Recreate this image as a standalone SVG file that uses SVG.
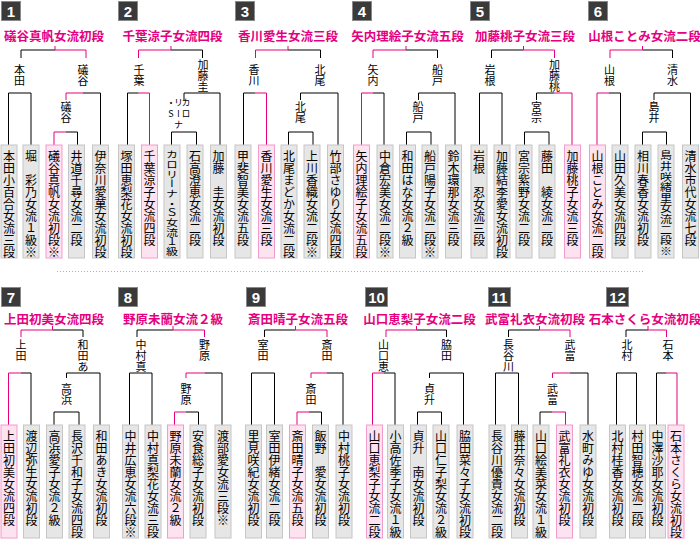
<svg xmlns="http://www.w3.org/2000/svg" width="700" height="542" viewBox="0 0 700 542">
<style>
.k{fill:none;stroke:#000;stroke-width:1}
.p{fill:none;stroke:#e5007f;stroke-width:1}
.bx{fill:#e6e6e6;stroke:#c6c6c6;stroke-width:1}
.wx{fill:#fde3f0;stroke:#f29ccb;stroke-width:1}
.bd{fill:#3a3a3a;stroke:#8a8a8a;stroke-width:1}
.bn{font-family:"Liberation Sans",Arial,sans-serif;font-size:15px;font-weight:bold;fill:#fff;text-anchor:middle}
.t{font-family:"Noto Sans CJK JP","Noto Sans CJK SC",sans-serif;font-size:12.5px;font-weight:bold;fill:#e5007f;text-anchor:middle}
.v{font-family:"Noto Sans CJK JP","Noto Sans CJK SC",sans-serif;font-size:12px;writing-mode:vertical-rl;text-orientation:upright;fill:#000}
.lm{font-family:"Noto Sans CJK JP","Noto Sans CJK SC",sans-serif;font-size:11px;writing-mode:vertical-rl;text-orientation:upright;fill:#000;text-anchor:middle}
.ls{font-family:"Noto Sans CJK JP","Noto Sans CJK SC",sans-serif;font-size:11px;writing-mode:vertical-rl;text-orientation:upright;fill:#000}
.lx{font-family:"Noto Sans CJK JP","Noto Sans CJK SC",sans-serif;font-size:9px;writing-mode:vertical-rl;text-orientation:upright;fill:#000}
.sep{stroke:#b0b0b0;stroke-width:1;stroke-dasharray:1 2}
</style>
<g id="separator"><line class="sep" x1="57" y1="271.5" x2="643" y2="271.5"/></g>
<g id="connectors">
<path class="k" d="M21,50H55M21,50V58M8.5,93H31M8.5,93V145M31,93V145M83,93H100.5V145M66,132H77.5V145"/>
<path class="p" d="M55,46V50H86V58M66,100V93H83M54,145V132H66"/>
<path class="k" d="M171,50H202.5V58M127.5,145V93H138.5M184,100V93H220V145M171.5,145V132H196.5V145"/>
<path class="p" d="M171,46V50H138.5V58M138.5,93H149.5V145"/>
<path class="k" d="M288,50H320.5V58M243.5,145V93H255M300.5,100V93H338V145M288.5,145V132H313V145"/>
<path class="p" d="M288,46V50H255.5V58M255,93H266.5V145"/>
<path class="k" d="M406,50H437.5V58M373,93H384V145M418.5,100V93H455V145M406.5,145V132H431V145"/>
<path class="p" d="M406,46V50H373V58M373,93H361.5V145"/>
<path class="k" d="M523.5,50H491.5V58M479.5,145V93H502V145M536.5,100V93H554.5M524.5,145V132H549V145"/>
<path class="p" d="M523.5,46V50H554.5V58M554.5,93H572V145"/>
<path class="k" d="M642.5,50H672.5V58M609,93H620.5V145M654,100V93H690.5V145M642.5,145V132H666.5V145"/>
<path class="p" d="M642.5,46V50H610V58M609,93H597V145"/>
<path class="k" d="M52.5,330H83V337M21,373H31V425M66.5,378V373H100V425M54,425V412H79V425"/>
<path class="p" d="M52.5,326V330H21V337M21,373H8.5V425"/>
<path class="k" d="M173,330H137V337M129.5,425V373H152V425M204.5,373H222V425M186,412H198.5V425"/>
<path class="p" d="M173,326V330H204.5V337M186,378V373H204.5M186,412H174.5V425"/>
<path class="k" d="M295.5,330H264.5V337M251.5,425V373H274.5V425M327,373H343V425M309,412H321.5V425"/>
<path class="p" d="M295.5,326V330H327V337M311,378V373H327M309,412H297V425"/>
<path class="k" d="M416.5,330H446.5V337M383.5,373H395V425M429.5,378V373H463.5V425M417.5,425V412H441.5V425"/>
<path class="p" d="M416.5,326V330H386V337M383.5,373H372.5V425"/>
<path class="k" d="M539.5,330H508.5V337M495.5,425V373H518.5V425M570,373H588V425M540,425V412H552.5"/>
<path class="p" d="M539.5,326V330H570V337M552.5,378V373H570M552.5,412H565.5V425"/>
<path class="k" d="M648,330H626V337M616.5,425V373H636.5V425M656.5,425V373H666.5"/>
<path class="p" d="M648,326V330H666.5V337M666.5,373H677V425"/>
</g>

<g id="block1">
<g id="badge1"><rect class="bd" x="1.5" y="1.5" width="19" height="19"/><text class="bn" x="11" y="17">1</text></g>
<g id="title1"><text class="t" x="54" y="41">礒谷真帆女流初段</text></g>
<g id="lab1a"><text class="lm" x="19.5" y="75.5">本田</text></g>
<g id="lab1b"><text class="lm" x="83" y="75.5">礒谷</text></g>
<g id="lab1c"><text class="lm" x="66" y="112">礒谷</text></g>
<g id="p1-1"><rect class="bx" x="1" y="145" width="16" height="113"/><text class="v" x="9" y="150">本田小百合女流三段</text></g>
<g id="p1-2"><rect class="bx" x="23" y="145" width="16" height="113"/><text class="v" x="31" y="150">堀　彩乃女流１級※</text></g>
<g id="p1-3"><rect class="wx" x="46" y="145" width="16" height="113"/><text class="v" x="54" y="150">礒谷真帆女流初段※</text></g>
<g id="p1-4"><rect class="bx" x="68.5" y="145" width="16" height="113"/><text class="v" x="76.5" y="150">井道千尋女流二段</text></g>
<g id="p1-5"><rect class="bx" x="92.5" y="145" width="16" height="113"/><text class="v" x="100.5" y="150">伊奈川愛菓女流初段</text></g>
</g>

<g id="block2">
<g id="badge2"><rect class="bd" x="118.5" y="1.5" width="19" height="19"/><text class="bn" x="128" y="17">2</text></g>
<g id="title2"><text class="t" x="172.5" y="41">千葉涼子女流四段</text></g>
<g id="lab2a"><text class="lm" x="139" y="75.5">千葉</text></g>
<g id="lab2b"><text class="lm" x="203" y="75.5">加藤圭</text></g>
<g id="lab2c"><text class="lx" x="186" y="98" letter-spacing="2">カロ</text><text class="lx" x="178.5" y="98" letter-spacing="2">リーナ</text><text class="lx" x="171" y="98" letter-spacing="2">・S</text></g>
<g id="p2-1"><rect class="bx" x="118.5" y="145" width="16" height="113"/><text class="v" x="126.5" y="150">塚田恵梨花女流初段</text></g>
<g id="p2-2"><rect class="wx" x="141.5" y="145" width="16" height="113"/><text class="v" x="149.5" y="150">千葉涼子女流四段</text></g>
<g id="p2-3"><rect class="bx" x="164" y="145" width="16" height="113"/><text class="v" x="172" y="150" textLength="106" lengthAdjust="spacingAndGlyphs">カロリーナ・Ｓ女流１級</text></g>
<g id="p2-4"><rect class="bx" x="187" y="145" width="16" height="113"/><text class="v" x="195" y="150">石高澄恵女流二段</text></g>
<g id="p2-5"><rect class="bx" x="210.5" y="145" width="16" height="113"/><text class="v" x="218.5" y="150">加藤　圭女流初段</text></g>
</g>

<g id="block3">
<g id="badge3"><rect class="bd" x="235.5" y="1.5" width="19" height="19"/><text class="bn" x="245" y="17">3</text></g>
<g id="title3"><text class="t" x="288" y="41">香川愛生女流三段</text></g>
<g id="lab3a"><text class="lm" x="254" y="75.5">香川</text></g>
<g id="lab3b"><text class="lm" x="320" y="75.5">北尾</text></g>
<g id="lab3c"><text class="lm" x="300.5" y="112">北尾</text></g>
<g id="p3-1"><rect class="bx" x="235" y="145" width="16" height="113"/><text class="v" x="243" y="150">甲斐智美女流五段</text></g>
<g id="p3-2"><rect class="wx" x="258.5" y="145" width="16" height="113"/><text class="v" x="266.5" y="150">香川愛生女流三段</text></g>
<g id="p3-3"><rect class="bx" x="281" y="145" width="16" height="113"/><text class="v" x="289" y="150">北尾まどか女流二段</text></g>
<g id="p3-4"><rect class="bx" x="304" y="145" width="16" height="113"/><text class="v" x="312" y="150">上川香織女流二段※</text></g>
<g id="p3-5"><rect class="bx" x="327.5" y="145" width="16" height="113"/><text class="v" x="335.5" y="150">竹部さゆり女流四段</text></g>
</g>

<g id="block4">
<g id="badge4"><rect class="bd" x="352.5" y="1.5" width="19" height="19"/><text class="bn" x="362" y="17">4</text></g>
<g id="title4"><text class="t" x="407.5" y="41">矢内理絵子女流五段</text></g>
<g id="lab4a"><text class="lm" x="373" y="75.5">矢内</text></g>
<g id="lab4b"><text class="lm" x="437.5" y="75.5">船戸</text></g>
<g id="lab4c"><text class="lm" x="418" y="112">船戸</text></g>
<g id="p4-1"><rect class="wx" x="353.5" y="145" width="16" height="113"/><text class="v" x="361.5" y="150">矢内理絵子女流五段</text></g>
<g id="p4-2"><rect class="bx" x="377" y="145" width="16" height="113"/><text class="v" x="385" y="150">中倉宏美女流二段※</text></g>
<g id="p4-3"><rect class="bx" x="399.5" y="145" width="16" height="113"/><text class="v" x="407.5" y="150">和田はな女流２級</text></g>
<g id="p4-4"><rect class="bx" x="422" y="145" width="16" height="113"/><text class="v" x="430" y="150">船戸陽子女流二段※</text></g>
<g id="p4-5"><rect class="bx" x="445.5" y="145" width="16" height="113"/><text class="v" x="453.5" y="150">鈴木環那女流三段</text></g>
</g>

<g id="block5">
<g id="badge5"><rect class="bd" x="470.5" y="1.5" width="19" height="19"/><text class="bn" x="480" y="17">5</text></g>
<g id="title5"><text class="t" x="525" y="41">加藤桃子女流三段</text></g>
<g id="lab5a"><text class="lm" x="490" y="75.5">岩根</text></g>
<g id="lab5b"><text class="lm" x="554.5" y="75.5">加藤桃</text></g>
<g id="lab5c"><text class="lm" x="536.5" y="112">宮宗</text></g>
<g id="p5-1"><rect class="bx" x="471" y="145" width="16" height="113"/><text class="v" x="479" y="150">岩根　忍女流三段</text></g>
<g id="p5-2"><rect class="bx" x="494" y="145" width="16" height="113"/><text class="v" x="502" y="150">加藤結李愛女流初段</text></g>
<g id="p5-3"><rect class="bx" x="516" y="145" width="16" height="113"/><text class="v" x="524" y="150">宮宗紫野女流二段</text></g>
<g id="p5-4"><rect class="bx" x="539" y="145" width="16" height="113"/><text class="v" x="547" y="150">藤田　綾女流二段</text></g>
<g id="p5-5"><rect class="wx" x="564.5" y="145" width="16" height="113"/><text class="v" x="572.5" y="150">加藤桃子女流三段</text></g>
</g>

<g id="block6">
<g id="badge6"><rect class="bd" x="588.5" y="1.5" width="19" height="19"/><text class="bn" x="598" y="17">6</text></g>
<g id="title6"><text class="t" x="644.5" y="41">山根ことみ女流二段</text></g>
<g id="lab6a"><text class="lm" x="609.5" y="75.5">山根</text></g>
<g id="lab6b"><text class="lm" x="672.5" y="75.5">清水</text></g>
<g id="lab6c"><text class="lm" x="654" y="112">島井</text></g>
<g id="p6-1"><rect class="wx" x="589.5" y="145" width="16" height="113"/><text class="v" x="597.5" y="150">山根ことみ女流二段</text></g>
<g id="p6-2"><rect class="bx" x="612" y="145" width="16" height="113"/><text class="v" x="620" y="150">山田久美女流四段</text></g>
<g id="p6-3"><rect class="bx" x="635" y="145" width="16" height="113"/><text class="v" x="643" y="150">相川春香女流初段</text></g>
<g id="p6-4"><rect class="bx" x="658" y="145" width="16" height="113"/><text class="v" x="666" y="150" textLength="106" lengthAdjust="spacingAndGlyphs">島井咲緒里女流二段※</text></g>
<g id="p6-5"><rect class="bx" x="682.5" y="145" width="16" height="113"/><text class="v" x="690.5" y="150">清水市代女流七段</text></g>
</g>

<g id="block7">
<g id="badge7"><rect class="bd" x="1.5" y="287.5" width="19" height="19"/><text class="bn" x="11" y="303">7</text></g>
<g id="title7"><text class="t" x="54" y="324">上田初美女流四段</text></g>
<g id="lab7a"><text class="ls" x="21" y="339">上田</text></g>
<g id="lab7b"><text class="ls" x="83" y="339">和田あ</text></g>
<g id="lab7c"><text class="lm" x="66.5" y="394">高浜</text></g>
<g id="p7-1"><rect class="wx" x="1" y="425" width="16" height="113"/><text class="v" x="9" y="430">上田初美女流四段</text></g>
<g id="p7-2"><rect class="bx" x="23.5" y="425" width="16" height="113"/><text class="v" x="31.5" y="430">渡辺弥生女流初段</text></g>
<g id="p7-3"><rect class="bx" x="46.5" y="425" width="16" height="113"/><text class="v" x="54.5" y="430">高浜愛子女流２級</text></g>
<g id="p7-4"><rect class="bx" x="69" y="425" width="16" height="113"/><text class="v" x="77" y="430">長沢千和子女流四段</text></g>
<g id="p7-5"><rect class="bx" x="93.5" y="425" width="16" height="113"/><text class="v" x="101.5" y="430">和田あき女流初段</text></g>
</g>

<g id="block8">
<g id="badge8"><rect class="bd" x="118.5" y="287.5" width="19" height="19"/><text class="bn" x="128" y="303">8</text></g>
<g id="title8"><text class="t" x="173" y="324">野原未蘭女流２級</text></g>
<g id="lab8a"><text class="ls" x="141" y="339">中村真</text></g>
<g id="lab8b"><text class="ls" x="204.5" y="339">野原</text></g>
<g id="lab8c"><text class="lm" x="186" y="394">野原</text></g>
<g id="p8-1"><rect class="bx" x="122.5" y="425" width="16" height="113"/><text class="v" x="130.5" y="430">中井広恵女流六段※</text></g>
<g id="p8-2"><rect class="bx" x="145" y="425" width="16" height="113"/><text class="v" x="153" y="430">中村真梨花女流三段</text></g>
<g id="p8-3"><rect class="wx" x="167.5" y="425" width="16" height="113"/><text class="v" x="175.5" y="430">野原未蘭女流２級</text></g>
<g id="p8-4"><rect class="bx" x="190" y="425" width="16" height="113"/><text class="v" x="198" y="430">安食総子女流初段</text></g>
<g id="p8-5"><rect class="bx" x="215" y="425" width="16" height="113"/><text class="v" x="223" y="430">渡部愛女流三段※</text></g>
</g>

<g id="block9">
<g id="badge9"><rect class="bd" x="246.5" y="287.5" width="19" height="19"/><text class="bn" x="256" y="303">9</text></g>
<g id="title9"><text class="t" x="298" y="324">斎田晴子女流五段</text></g>
<g id="lab9a"><text class="ls" x="263" y="339">室田</text></g>
<g id="lab9b"><text class="ls" x="327" y="339">斎田</text></g>
<g id="lab9c"><text class="lm" x="311" y="394">斎田</text></g>
<g id="p9-1"><rect class="bx" x="245.5" y="425" width="16" height="113"/><text class="v" x="253.5" y="430">里見咲紀女流初段</text></g>
<g id="p9-2"><rect class="bx" x="266.5" y="425" width="16" height="113"/><text class="v" x="274.5" y="430">室田伊緒女流二段</text></g>
<g id="p9-3"><rect class="wx" x="289.5" y="425" width="16" height="113"/><text class="v" x="297.5" y="430">斎田晴子女流五段</text></g>
<g id="p9-4"><rect class="bx" x="312.5" y="425" width="16" height="113"/><text class="v" x="320.5" y="430">飯野　愛女流初段</text></g>
<g id="p9-5"><rect class="bx" x="336" y="425" width="16" height="113"/><text class="v" x="344" y="430">中村桃子女流初段</text></g>
</g>

<g id="block10">
<g id="badge10"><rect class="bd" x="365.5" y="287.5" width="22" height="19"/><text class="bn" x="376.5" y="303">10</text></g>
<g id="title10"><text class="t" x="419.5" y="324">山口恵梨子女流二段</text></g>
<g id="lab10a"><text class="ls" x="383.5" y="339">山口恵</text></g>
<g id="lab10b"><text class="ls" x="446.5" y="339">脇田</text></g>
<g id="lab10c"><text class="lm" x="429.5" y="394">貞升</text></g>
<g id="p10-1"><rect class="wx" x="366.5" y="425" width="16" height="113"/><text class="v" x="374.5" y="430">山口恵梨子女流二段</text></g>
<g id="p10-2"><rect class="bx" x="387.5" y="425" width="16" height="113"/><text class="v" x="395.5" y="430">小高佐季子女流１級</text></g>
<g id="p10-3"><rect class="bx" x="410.5" y="425" width="16" height="113"/><text class="v" x="418.5" y="430">貞升　南女流初段</text></g>
<g id="p10-4"><rect class="bx" x="433" y="425" width="16" height="113"/><text class="v" x="441" y="430">山口仁子梨女流２級</text></g>
<g id="p10-5"><rect class="bx" x="457" y="425" width="16" height="113"/><text class="v" x="465" y="430">脇田菜々子女流初段</text></g>
</g>

<g id="block11">
<g id="badge11"><rect class="bd" x="488.5" y="287.5" width="22" height="19"/><text class="bn" x="499.5" y="303">11</text></g>
<g id="title11"><text class="t" x="535" y="324">武富礼衣女流初段</text></g>
<g id="lab11a"><text class="ls" x="508.5" y="339">長谷川</text></g>
<g id="lab11b"><text class="ls" x="570" y="339">武富</text></g>
<g id="lab11c"><text class="lm" x="552.5" y="394">武富</text></g>
<g id="p11-1"><rect class="bx" x="489" y="425" width="16" height="113"/><text class="v" x="497" y="430">長谷川優貴女流二段</text></g>
<g id="p11-2"><rect class="bx" x="511.5" y="425" width="16" height="113"/><text class="v" x="519.5" y="430">藤井奈々女流初段</text></g>
<g id="p11-3"><rect class="bx" x="533" y="425" width="16" height="113"/><text class="v" x="541" y="430">山口絵美菜女流１級</text></g>
<g id="p11-4"><rect class="wx" x="556.5" y="425" width="16" height="113"/><text class="v" x="564.5" y="430">武富礼衣女流初段</text></g>
<g id="p11-5"><rect class="bx" x="580" y="425" width="16" height="113"/><text class="v" x="588" y="430">水町みゆ女流初段</text></g>
</g>

<g id="block12">
<g id="badge12"><rect class="bd" x="606.5" y="287.5" width="22" height="19"/><text class="bn" x="617.5" y="303">12</text></g>
<g id="title12"><text class="t" x="645" y="324">石本さくら女流初段</text></g>
<g id="lab12a"><text class="ls" x="627" y="339">北村</text></g>
<g id="lab12b"><text class="ls" x="668" y="339">石本</text></g>
<g id="p12-1"><rect class="bx" x="609.5" y="425" width="16" height="113"/><text class="v" x="617.5" y="430">北村桂香女流初段</text></g>
<g id="p12-2"><rect class="bx" x="629.5" y="425" width="16" height="113"/><text class="v" x="637.5" y="430">村田智穂女流二段</text></g>
<g id="p12-3"><rect class="bx" x="649.5" y="425" width="16" height="113"/><text class="v" x="657.5" y="430">中澤沙耶女流初段</text></g>
<g id="p12-4"><rect class="wx" x="668" y="425" width="16" height="113"/><text class="v" x="676" y="430">石本さくら女流初段</text></g>
</g>
</svg>
